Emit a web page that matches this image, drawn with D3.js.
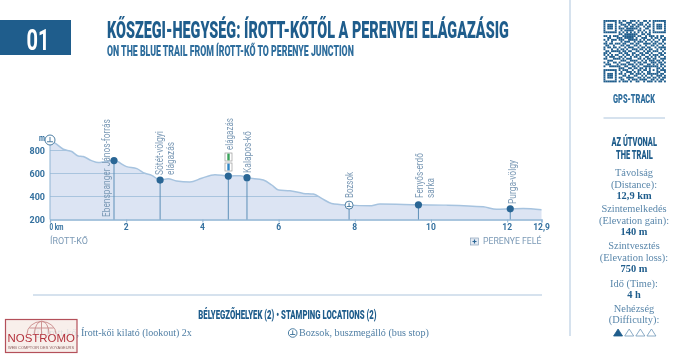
<!DOCTYPE html>
<html>
<head>
<meta charset="utf-8">
<script src="https://cdn.jsdelivr.net/npm/d3@7"></script>
<style>
  html, body { margin: 0; padding: 0; background: #fff; overflow: hidden; }
  svg { display: block; filter: blur(0.45px); }
</style>
</head>
<body>
<div id="chart"></div>
<script>
// Elevation profile
const profileKm = [0, 0.13, 0.35, 0.57, 0.74, 0.87, 1.09, 1.27, 1.44, 1.68, 2.01, 2.28, 2.49, 2.67, 2.89, 3.1, 3.32, 3.67, 3.98, 4.33, 4.68, 4.99, 5.17, 5.6, 5.82, 6.0, 6.3, 6.65, 6.91, 7.13, 7.39, 7.85, 8.39, 8.66, 9.67, 10.4, 11.37, 11.72, 12.08, 12.42, 12.9];
const profileElev = [887, 864, 811, 791, 753, 747, 712, 695, 703, 712, 660, 642, 602, 584, 543, 555, 535, 526, 558, 590, 578, 581, 564, 543, 500, 456, 450, 427, 421, 383, 340, 325, 319, 334, 328, 325, 310, 290, 293, 296, 284];

const yTicks = [200, 400, 600, 800];
const gridTicks = [400, 600, 800];
const xTicks = [2, 4, 6, 8, 10, 12, 12.9];
const xTickLabels = ['2', '4', '6', '8', '10', '12', '12,9'];

// Stops along the trail
const stopKm = [1.68, 2.89, 4.68, 5.17, 9.67, 12.08];
const stopElev = [712, 543, 578, 564, 328, 293];
const busKm = 7.85;
const busElev = 325;

const stats = [
  ['Távolság', '(Distance):', '12,9 km'],
  ['Szintemelkedés', '(Elevation gain):', '140 m'],
  ['Szintvesztés', '(Elevation loss):', '750 m'],
  ['Idő (Time):', '4 h'],
  ['Nehézség', '(Difficulty):'],
];
const difficulty = [1, 0, 0, 0];

const qrRows = [
  '111111101011001110100110101111111',
  '100000101100111001011001001000001',
  '101110100111010110111010101011101',
  '101110101001101101100101101011101',
  '101110101110111111010011001011101',
  '100000100101111100110100101000001',
  '111111101010101010101010101111111',
  '000000001101111111001101100000000',
  '110101110011111110110010111010110',
  '001100011101111101001110010110101',
  '101011101110011111010101101001011',
  '010010000101110010111010010110010',
  '110110111011001101100111101101101',
  '011001000110110011010010011010010',
  '101101101001011100101101100101111',
  '100010010110100111011010110010101',
  '011011111011011001100101101110010',
  '110100001101100110011011010001101',
  '101010110010110101101100101110110',
  '010111001101001011010011010101001',
  '110001111010111000110101101100111',
  '001110000111001111001010111011010',
  '101001101000110010110110011101101',
  '011100010111011101011001101010110',
  '100111111001100110100111111110101',
  '000000001110011011011010100011010',
  '111111101011100100110110101010111',
  '100000100100111010101001100011001',
  '101110101101001101110101111110110',
  '101110100011010011001010010011101',
  '101110101100111100110101101101011',
  '100000100110010111011110011010110',
  '111111101011101001100101110101101',
];

const width = 700;
const height = 358;
const blue = '#1f5d8c';
const midBlue = '#2f6e9d';
const labelBlue = '#7c9ab6';
const lineBlue = '#c8d9e8';

const svg = d3.select('#chart').append('svg').attr('width', width).attr('height', height);
svg.append('rect').attr('width', width).attr('height', height).attr('fill', '#fff');

const condensed = 'Roboto, sans-serif';
const serif = '"Liberation Serif", serif';

// squeeze a text to a wanted width, rot is for the upright labels
const fit = (sel, tx, ty, w, rot = 0) => {
  const sx = w / sel.node().getComputedTextLength();
  sel.attr('transform', `translate(${tx}, ${ty}) rotate(${rot}) scale(${sx}, 1)`);
  return sel;
};

// the original headings use a narrow face
const narrow = (g, str, tx, ty, w, size, fill, weight = 700) => fit(
  g.append('text')
    .text(str)
    .attr('font-family', condensed)
    .attr('font-weight', weight)
    .attr('font-size', size)
    .attr('fill', fill),
  tx,
  ty,
  w,
);

/*
   Header
 */
const header = svg.append('g');
header.append('rect').attr('x', 0).attr('y', 20).attr('width', 71).attr('height', 35).attr('fill', blue);
narrow(header, '01', 26.5, 50, 23, 30, '#fff');
narrow(header, 'KŐSZEGI-HEGYSÉG: ÍROTT-KŐTŐL A PERENYEI ELÁGAZÁSIG', 107, 38, 402, 24, blue, 900);
narrow(header, 'ON THE BLUE TRAIL FROM ÍROTT-KŐ TO PERENYE JUNCTION', 107, 56, 247, 14, midBlue, 900);

/*
   Scales
 */
const x = d3.scaleLinear().domain([0, 12.9]).range([50, 541.5]);
const y = d3.scaleLinear().domain([200, 800]).range([219.5, 150.5]);

/*
   Profile
 */
const area = d3.area()
  .x((d) => x(d[0]))
  .y0(y(200))
  .y1((d) => y(d[1]))
  .curve(d3.curveMonotoneX);
const line = d3.line()
  .x((d) => x(d[0]))
  .y((d) => y(d[1]))
  .curve(d3.curveMonotoneX);
const profile = profileKm.map((km, i) => [km, profileElev[i]]);

svg.append('clipPath').attr('id', 'profile-clip').append('path').attr('d', area(profile));
svg.append('path').attr('d', area(profile)).attr('fill', '#dce4f3');

svg.append('g')
  .attr('clip-path', 'url(#profile-clip)')
  .selectAll('line')
  .data(gridTicks)
  .enter()
  .append('line')
  .attr('x1', x(0))
  .attr('x2', x(12.9))
  .attr('y1', (d) => y(d))
  .attr('y2', (d) => y(d))
  .attr('stroke', '#a9c4de')
  .attr('stroke-width', 1);

svg.append('path')
  .attr('d', line(profile))
  .attr('fill', 'none')
  .attr('stroke', '#a6c3df')
  .attr('stroke-width', 1.5);

// Axes
const xAxis = svg.append('g')
  .attr('transform', `translate(0, ${y(200)})`)
  .call(d3.axisBottom(x).tickValues([0, ...xTicks]).tickSize(3).tickFormat(''));
xAxis.select('.domain').attr('stroke', '#8fb4d4').attr('stroke-width', 1.3);
xAxis.selectAll('.tick line').attr('stroke', '#8fb4d4');

svg.append('g')
  .selectAll('text')
  .data(xTicks)
  .enter()
  .append('text')
  .text((d, i) => xTickLabels[i])
  .attr('x', (d) => x(d))
  .attr('y', 230)
  .attr('text-anchor', 'middle')
  .attr('font-family', condensed)
  .attr('font-weight', 700)
  .attr('font-size', 8.5)
  .attr('fill', '#35719f');

narrow(svg, '0 km', 49.5, 230, 14, 8.5, '#35719f');

svg.append('g')
  .selectAll('text')
  .data(yTicks)
  .enter()
  .append('text')
  .text((d) => d)
  .attr('x', 45)
  .attr('y', (d) => y(d) + 3.5)
  .attr('text-anchor', 'end')
  .attr('font-family', condensed)
  .attr('font-weight', 700)
  .attr('font-size', 9)
  .attr('fill', '#35719f');

svg.append('line')
  .attr('x1', x(0)).attr('x2', x(0))
  .attr('y1', y(887)).attr('y2', y(200))
  .attr('stroke', '#8fb4d4').attr('stroke-width', 1);

narrow(svg, 'm', 39, 141, 6, 8.5, '#35719f');

// Stops
const stems = svg.append('g').attr('stroke', '#5d8fb8').attr('stroke-width', 1);
[...stopKm.map((km, i) => [km, stopElev[i]]), [busKm, busElev]].forEach((d) => {
  stems.append('line')
    .attr('x1', x(d[0])).attr('x2', x(d[0]))
    .attr('y1', y(d[1])).attr('y2', y(200));
});

svg.append('g')
  .selectAll('circle')
  .data(stopKm)
  .enter()
  .append('circle')
  .attr('cx', (d) => x(d))
  .attr('cy', (d, i) => y(stopElev[i]))
  .attr('r', 3.6)
  .attr('fill', '#2a6695');

// bus stop and start marks are stamping places
const stampMark = (g, cx, cy, r) => {
  g.append('circle').attr('cx', cx).attr('cy', cy).attr('r', r)
    .attr('fill', '#fff').attr('stroke', '#3a7099').attr('stroke-width', 0.9);
  g.append('path')
    .attr('d', `M${cx - r * 0.6} ${cy + r * 0.35} L${cx + r * 0.6} ${cy + r * 0.35} M${cx} ${cy - r * 0.6} L${cx} ${cy + r * 0.35}`)
    .attr('stroke', '#3a7099').attr('stroke-width', 0.9).attr('fill', 'none');
};
stampMark(svg, x(busKm), y(busElev), 4);
stampMark(svg, x(0), 140, 5);

// Rotated stop names
const vLabel = (str, lx, ly, w) => fit(
  svg.append('text')
    .text(str)
    .attr('font-family', 'Roboto, sans-serif')
    .attr('font-size', 10)
    .attr('fill', labelBlue),
  lx,
  ly,
  w,
  -90,
);
vLabel('Ebenspanger János-forrás', 110, 217, 98);
vLabel('Sötét-völgyi', 163, 175, 44);
vLabel('elágazás', 174, 175, 33);
vLabel('elágazás', 233, 150, 32);
vLabel('Kalapos-kő', 251, 173, 42);
vLabel('Bozsok', 353, 198, 26);
vLabel('Fenyős-erdő', 423, 198, 45);
vLabel('sarka', 434, 198, 20);
vLabel('Purga-völgy', 516, 204, 44);

// Trail colour marks over the junction
[[153, '#3aa35a'], [163, '#2f86c5']].forEach((d) => {
  svg.append('rect').attr('x', 225).attr('y', d[0]).attr('width', 7).attr('height', 8)
    .attr('fill', '#fff').attr('stroke', '#9a9a9a').attr('stroke-width', 0.7);
  svg.append('rect').attr('x', 227.3).attr('y', d[0] + 0.6).attr('width', 2.4).attr('height', 6.8)
    .attr('fill', d[1]);
});

const plainLabel = (str, tx, w) => fit(
  svg.append('text')
    .text(str)
    .attr('font-family', 'Roboto, sans-serif')
    .attr('font-size', 9.5)
    .attr('fill', labelBlue),
  tx,
  244,
  w,
);
plainLabel('ÍROTT-KŐ', 50, 38);
plainLabel('PERENYE FELÉ', 483, 58.5);
svg.append('rect').attr('x', 470.5).attr('y', 238).attr('width', 8).attr('height', 7)
  .attr('fill', '#e3e9f2').attr('stroke', '#8aa3bb').attr('stroke-width', 0.7);
svg.append('path').attr('d', 'M474.5 239.5V243.5M472.5 241.5H476.5')
  .attr('stroke', '#2a6695').attr('stroke-width', 1.2);

/*
   Right column
 */
svg.append('line').attr('x1', 570).attr('x2', 570).attr('y1', 0).attr('y2', 336)
  .attr('stroke', lineBlue).attr('stroke-width', 1.5);

const qrSize = 1.89;
const qr = svg.append('g').attr('fill', blue).attr('transform', 'translate(603.5, 20)');
qrRows.forEach((row, r) => {
  row.split('').forEach((c, col) => {
    if (c === '1') {
      qr.append('rect')
        .attr('x', col * qrSize).attr('y', r * qrSize)
        .attr('width', qrSize).attr('height', qrSize);
    }
  });
});

narrow(svg, 'GPS-TRACK', 613, 103, 42, 12, midBlue, 900);
svg.append('line').attr('x1', 603.5).attr('x2', 665).attr('y1', 118).attr('y2', 118)
  .attr('stroke', lineBlue).attr('stroke-width', 1.3);
narrow(svg, 'AZ ÚTVONAL', 611.5, 146, 45.5, 12.5, blue, 900);
narrow(svg, 'THE TRAIL', 616, 159, 37, 12.5, blue, 900);

const statBaselines = [
  [176, 187.5, 198.5],
  [212, 224, 235],
  [249, 261, 272],
  [287, 298],
  [312, 323],
];
const statsGroup = svg.append('g')
  .attr('text-anchor', 'middle')
  .attr('font-family', serif)
  .attr('font-size', 10.4);
stats.forEach((block, i) => {
  block.forEach((str, j) => {
    const isValue = i < 4 && j === block.length - 1;
    statsGroup.append('text')
      .text(str)
      .attr('x', 634)
      .attr('y', statBaselines[i][j])
      .attr('font-weight', isValue ? 700 : 400)
      .attr('fill', isValue ? blue : '#5a87ab');
  });
});

const triX = d3.scaleBand().domain(d3.range(difficulty.length)).range([612.5, 657]);
svg.append('g')
  .selectAll('path')
  .data(difficulty)
  .enter()
  .append('path')
  .attr('transform', (d, i) => `translate(${triX(i) + triX.bandwidth() / 2}, 336)`)
  .attr('d', 'M-4.5 0L0 -7L4.5 0Z')
  .attr('fill', (d) => (d ? blue : '#fff'))
  .attr('stroke', (d) => (d ? blue : '#6f97b8'))
  .attr('stroke-width', 0.8);

/*
   Stamping locations
 */
svg.append('line').attr('x1', 33).attr('x2', 542).attr('y1', 295).attr('y2', 295)
  .attr('stroke', lineBlue).attr('stroke-width', 1.3);
narrow(svg, 'BÉLYEGZŐHELYEK (2) • STAMPING LOCATIONS (2)', 198.3, 319, 178.5, 12.5, blue, 900);

const rowText = (str, tx, w) => fit(
  svg.append('text')
    .text(str)
    .attr('font-family', serif)
    .attr('font-size', 10.5)
    .attr('fill', '#4f7ea4'),
  tx,
  336,
  w,
);
rowText('Írott-kő,', 46, 33);
rowText('Írott-kői kilató (lookout) 2x', 81, 111);
rowText('Bozsok, buszmegálló (bus stop)', 299, 130);
stampMark(svg, 292.7, 333, 4.3);
stampMark(svg, 38, 333, 4.3);

// Watermark logo, it sits over the first stamping place
const logo = svg.append('g');
logo.append('rect').attr('x', 5.5).attr('y', 319.5).attr('width', 71.5).attr('height', 33)
  .attr('fill', '#f7ece8').attr('fill-opacity', 0.86)
  .attr('stroke', '#b4505a').attr('stroke-width', 1.2);
const globe = logo.append('g').attr('fill', 'none').attr('stroke', '#c98a8a').attr('stroke-width', 0.9);
globe.append('path').attr('d', 'M27 334A14.5 12.5 0 0 1 56 334');
globe.append('path').attr('d', 'M34.5 334A7 12.5 0 0 1 49 334');
globe.append('path').attr('d', 'M41.5 321.5V334M29.5 328H53.5');
fit(
  logo.append('text').text('NOSTROMO')
    .attr('font-family', '"Liberation Sans", sans-serif').attr('font-size', 11)
    .attr('fill', '#b3313c'),
  7.5,
  341.7,
  67.5,
);
fit(
  logo.append('text').text('WEB COMPTOIR DES VOYAGEURS')
    .attr('font-family', '"Liberation Sans", sans-serif').attr('font-size', 3.6)
    .attr('fill', '#8a5a5a'),
  8,
  349,
  66,
);
</script>
</body>
</html>
